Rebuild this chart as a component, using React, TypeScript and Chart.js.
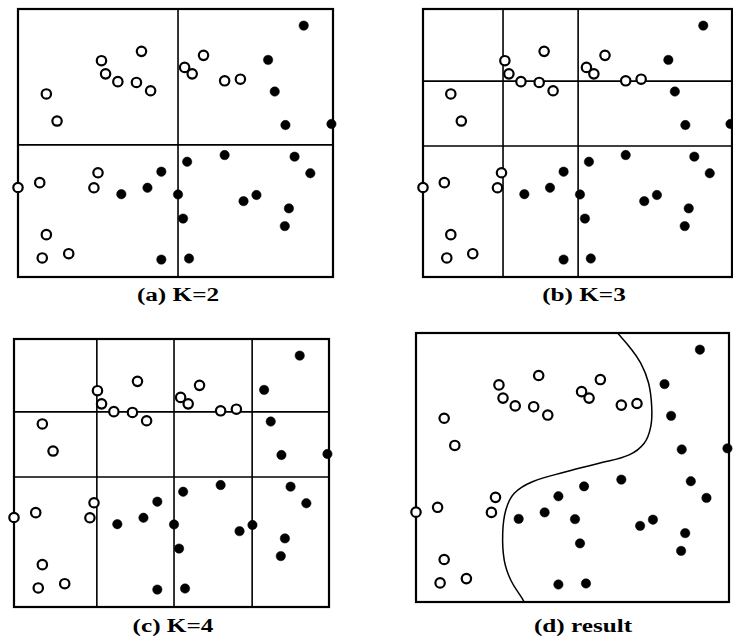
import { useEffect, useRef } from "react";
import { Chart, registerables } from "chart.js";

Chart.register(...registerables);

// Sample points in unit coordinates (x to the right, y upward), shared by all panels.
const openPoints: [number, number][] = [
  [0.392, 0.842], [0.265, 0.807], [0.278, 0.758], [0.317, 0.729], [0.376, 0.726],
  [0.421, 0.695], [0.09, 0.683], [0.124, 0.582], [0.589, 0.827], [0.529, 0.782],
  [0.553, 0.758], [0.656, 0.732], [0.706, 0.738], [0.0, 0.334], [0.069, 0.352],
  [0.254, 0.389], [0.241, 0.333], [0.09, 0.158], [0.077, 0.071], [0.161, 0.087],
];

const filledPoints: [number, number][] = [
  [0.907, 0.938], [0.794, 0.81], [0.815, 0.692], [0.849, 0.567], [0.995, 0.571],
  [0.537, 0.43], [0.656, 0.455], [0.878, 0.449], [0.928, 0.387], [0.455, 0.393],
  [0.411, 0.333], [0.328, 0.309], [0.508, 0.308], [0.757, 0.306], [0.716, 0.283],
  [0.86, 0.256], [0.524, 0.218], [0.847, 0.19], [0.455, 0.065], [0.543, 0.069],
];

// Cell boundaries of each partition level.
const splitsK2X = [0.508];
const splitsK2Y = [0.493];
const splitsK3X = [0.259, 0.502];
const splitsK3Y = [0.489, 0.731];
const splitsK4X = [0.263, 0.508, 0.756];
const splitsK4Y = [0.485, 0.728];

// Final decision boundary.
const boundaryCurve: [number, number][] = [
  [0.644, 1.0], [0.681, 0.95], [0.718, 0.888], [0.743, 0.814], [0.753, 0.727],
  [0.75, 0.652], [0.729, 0.59], [0.681, 0.547], [0.585, 0.516], [0.479, 0.484],
  [0.372, 0.447], [0.314, 0.404], [0.287, 0.342], [0.277, 0.255], [0.282, 0.155],
  [0.303, 0.081], [0.34, 0.012], [0.346, 0.0],
];

const panelLabels = ["(a) K=2", "(b) K=3", "(c) K=4", "(d) result"];

type Box = { left: number; top: number; width: number; height: number };

type PanelProps = {
  box: Box;
  xs: number[];
  ys: number[];
  curve?: [number, number][];
};

const PAD = 8;

function Panel({ box, xs, ys, curve }: PanelProps) {
  const ref = useRef<HTMLCanvasElement | null>(null);

  useEffect(() => {
    const canvas = ref.current;
    if (!canvas) return;

    const partition = {
      id: "partition",
      beforeDatasetsDraw(chart: Chart) {
        const { ctx, chartArea, scales } = chart;
        ctx.save();
        ctx.strokeStyle = "#000";
        ctx.lineCap = "square";
        ctx.lineWidth = 1.6;
        xs.forEach((v) => {
          const px = scales.x.getPixelForValue(v);
          ctx.beginPath();
          ctx.moveTo(px, chartArea.top);
          ctx.lineTo(px, chartArea.bottom);
          ctx.stroke();
        });
        ys.forEach((v) => {
          const py = scales.y.getPixelForValue(v);
          ctx.beginPath();
          ctx.moveTo(chartArea.left, py);
          ctx.lineTo(chartArea.right, py);
          ctx.stroke();
        });
        ctx.lineWidth = 2.2;
        ctx.strokeRect(
          chartArea.left,
          chartArea.top,
          chartArea.right - chartArea.left,
          chartArea.bottom - chartArea.top
        );
        ctx.restore();
      },
    };

    const datasets: any[] = [];
    if (curve) {
      datasets.push({
        type: "line",
        data: curve.map(([x, y]) => ({ x, y })),
        borderColor: "#000",
        borderWidth: 1.5,
        pointRadius: 0,
        tension: 0.4,
        fill: false,
        clip: false,
      });
    }
    datasets.push({
      type: "scatter",
      data: openPoints.map(([x, y]) => ({ x, y })),
      pointRadius: 4.7,
      pointBorderWidth: 2.2,
      pointBackgroundColor: "#fff",
      pointBorderColor: "#000",
      clip: false,
    });
    datasets.push({
      type: "scatter",
      data: filledPoints.map(([x, y]) => ({ x, y })),
      pointRadius: 4.7,
      pointBorderWidth: 0.5,
      pointBackgroundColor: "#000",
      pointBorderColor: "#000",
      clip: false,
    });

    const chart = new Chart(canvas, {
      type: "scatter",
      data: { datasets },
      options: {
        animation: false,
        responsive: false,
        events: [],
        layout: { padding: PAD },
        scales: {
          x: { type: "linear", min: 0, max: 1, display: false },
          y: { type: "linear", min: 0, max: 1, display: false },
        },
        plugins: {
          legend: { display: false },
          tooltip: { enabled: false },
        },
      },
      plugins: [partition],
    });

    return () => chart.destroy();
  }, [box, xs, ys, curve]);

  return (
    <canvas
      ref={ref}
      width={box.width + 2 * PAD}
      height={box.height + 2 * PAD}
      style={{
        position: "absolute",
        left: box.left - PAD,
        top: box.top - PAD,
        display: "block",
      }}
    />
  );
}

function Caption({ text, cx, cy }: { text: string; cx: number; cy: number }) {
  return (
    <div
      style={{
        position: "absolute",
        left: cx,
        top: cy,
        transform: "translate(-50%, -50%) scaleX(1.4)",
        fontFamily: '"Liberation Serif", "DejaVu Serif", serif',
        fontWeight: "bold",
        fontSize: 18,
        lineHeight: "18px",
        whiteSpace: "nowrap",
        color: "#000",
      }}
    >
      {text}
    </div>
  );
}

const boxA: Box = { left: 18, top: 9, width: 315, height: 268 };
const boxB: Box = { left: 423, top: 9, width: 309, height: 268 };
const boxC: Box = { left: 14, top: 339, width: 315, height: 268 };
const boxD: Box = { left: 416, top: 333, width: 313, height: 269 };

export default function App() {
  return (
    <div
      style={{
        position: "absolute",
        left: 0,
        top: 0,
        width: 733,
        height: 636,
        background: "#fff",
        overflow: "hidden",
      }}
    >
      <Panel box={boxA} xs={splitsK2X} ys={splitsK2Y} />
      <Panel box={boxB} xs={splitsK3X} ys={splitsK3Y} />
      <Panel box={boxC} xs={splitsK4X} ys={splitsK4Y} />
      <Panel box={boxD} xs={[]} ys={[]} curve={boundaryCurve} />
      <Caption text={panelLabels[0]} cx={178} cy={295} />
      <Caption text={panelLabels[1]} cx={584} cy={295} />
      <Caption text={panelLabels[2]} cx={173} cy={626} />
      <Caption text={panelLabels[3]} cx={583} cy={626} />
    </div>
  );
}
